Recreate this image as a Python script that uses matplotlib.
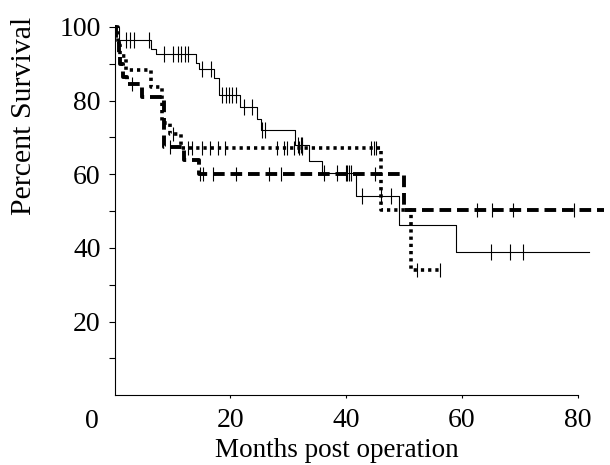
import numpy as np
import matplotlib
matplotlib.use("Agg")
import matplotlib.pyplot as plt

# Kaplan-Meier style step curves
solid_t = [0, 0.7, 6.3, 7.2, 14.0, 14.5, 17.2, 18.1, 21.6, 24.5, 25.3, 31.2, 33.6, 35.8, 41.6, 49.1, 58.9, 81.9]
solid_s = [100, 96.5, 94.0, 92.7, 90.3, 88.5, 86.0, 81.5, 78.3, 75.0, 72.0, 68.0, 63.6, 60.3, 54.0, 46.3, 38.9, 38.9]
solid_cens = [2.0, 2.6, 3.4, 6.0, 8.6, 10.0, 10.9, 11.5, 12.1, 12.6, 15.0, 16.7, 18.6, 19.2, 19.8,
              20.3, 20.9, 22.4, 23.8, 25.5, 25.9, 31.6, 32.2, 32.4, 36.2, 38.4, 40.0, 40.2, 40.5,
              40.9, 42.8, 46.0, 47.8, 65.0, 68.3, 70.5]

dashed_t = [0, 0.3, 0.7, 1.0, 1.5, 2.2, 4.7, 8.6, 12.0, 14.6, 50.0, 85.3]
dashed_s = [100, 96, 93, 90, 86.5, 84.5, 81.0, 67.4, 64.0, 60.0, 50.3, 50.3]
dashed_cens = [3.0, 9.5, 14.7, 15.2, 16.9, 21.0, 26.7, 28.8, 45.0, 62.6, 65.2, 68.8, 79.3]

dotted_t = [0, 0.5, 1.0, 2.0, 6.2, 8.1, 9.5, 11.5, 46.0, 51.2, 56.5]
dotted_s = [100, 95, 92, 88.3, 83.7, 74.0, 71.0, 67.0, 50.3, 34.0, 34.0]
dotted_cens = [10.0, 12.6, 13.4, 15.0, 16.4, 17.8, 19.0, 28.1, 29.3, 29.8, 31.0, 31.9, 32.4,
               44.3, 44.8, 45.2, 52.3, 56.2]


def step_value(ts, ss, c):
    idx = np.searchsorted(ts, c, side='right') - 1
    return np.array(ss)[idx]


plt.rcParams['font.family'] = ['Liberation Serif', 'DejaVu Serif']

fig = plt.figure(figsize=(6.1, 4.65), dpi=100)
ax = fig.add_axes([0.188, 0.150, 0.802, 0.800])

ax.plot(solid_t, solid_s, drawstyle='steps-post', color='black', lw=0.8)
ax.plot(solid_cens, step_value(solid_t, solid_s, solid_cens), ls='none', marker='|',
        ms=12, mew=0.8, color='black')

ax.plot(dotted_t, dotted_s, drawstyle='steps-post', color='black', lw=2.6, dashes=(0.9, 1.1))
ax.plot(dotted_cens, step_value(dotted_t, dotted_s, dotted_cens), ls='none', marker='|',
        ms=10, mew=0.8, color='black')

ax.plot(dashed_t, dashed_s, drawstyle='steps-post', color='black', lw=2.8, dashes=(3, 1.5))
ax.plot(dashed_cens, step_value(dashed_t, dashed_s, dashed_cens), ls='none', marker='|',
        ms=10, mew=0.8, color='black')

ax.set_xlim(0, 84.5)
ax.set_ylim(0, 101)
ax.spines['top'].set_visible(False)
ax.spines['right'].set_visible(False)
ax.spines['bottom'].set_bounds(0, 80)
ax.spines['left'].set_bounds(0, 100)
ax.spines['left'].set_linewidth(0.8)
ax.spines['bottom'].set_linewidth(0.8)

ax.set_xticks([20, 40, 60, 80])
ax.set_yticks([20, 40, 60, 80, 100])
ax.set_yticks([10, 30, 50, 70, 90], minor=True)
ax.tick_params(axis='y', which='both', direction='out', length=4, width=0.8, pad=6, labelsize=20)
ax.tick_params(axis='x', direction='out', length=2, width=0.8, pad=7, labelsize=20)
ax.text(-0.046, -0.07, '0', transform=ax.transAxes, ha='center', va='center', fontsize=20)

ax.set_xlabel('Months post operation', fontsize=19.5, labelpad=0)
ax.xaxis.set_label_coords(0.455, -0.115)
ax.set_ylabel('Percent Survival', fontsize=21.5)
ax.yaxis.set_label_coords(-0.158, 0.75)

fig.savefig('out.png', dpi=100)
